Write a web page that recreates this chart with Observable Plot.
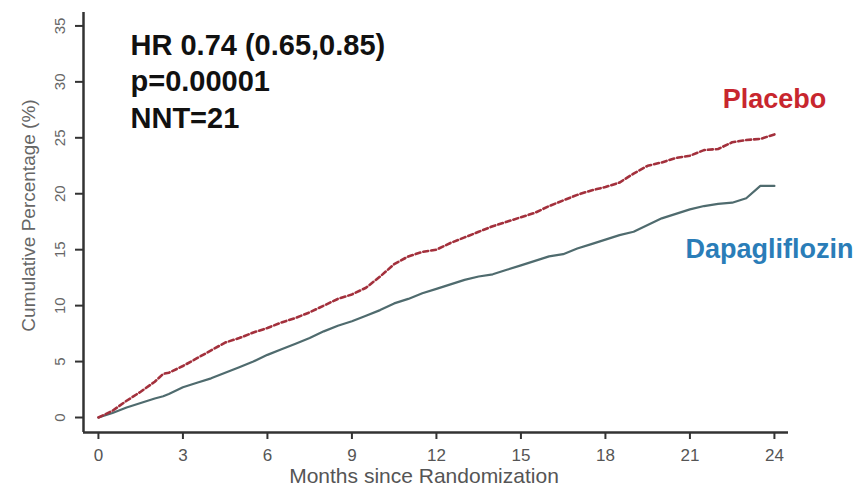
<!DOCTYPE html>
<html>
<head>
<meta charset="utf-8">
<script src="https://cdn.jsdelivr.net/npm/d3@7"></script>
<script src="https://cdn.jsdelivr.net/npm/@observablehq/plot@0.6"></script>
<style>
  html, body { margin: 0; padding: 0; background: #fff; }
  #chart svg { display: block; }
</style>
</head>
<body>
<div id="chart"></div>
<script>
// Data
const months = [0,0.5,1,1.5,2,2.3,2.5,3,3.5,4,4.5,5,5.5,6,6.5,7,7.5,8,8.5,9,9.5,10,10.5,11,11.5,12,12.5,13,13.5,14,14.5,15,15.5,16,16.5,17,17.5,18,18.5,19,19.5,20,20.5,21,21.5,22,22.5,23,23.5,24];
const placebo = [0,0.6,1.5,2.3,3.2,3.9,4.0,4.6,5.3,6.0,6.7,7.1,7.6,8.0,8.5,8.9,9.4,10.0,10.6,11.0,11.6,12.6,13.7,14.4,14.8,15.0,15.6,16.1,16.6,17.1,17.5,17.9,18.3,18.9,19.4,19.9,20.3,20.6,21.0,21.8,22.5,22.8,23.2,23.4,23.9,24.0,24.6,24.8,24.9,25.3];
const dapagliflozin = [0,0.4,0.9,1.3,1.7,1.9,2.1,2.7,3.1,3.5,4.0,4.5,5.0,5.6,6.1,6.6,7.1,7.7,8.2,8.6,9.1,9.6,10.2,10.6,11.1,11.5,11.9,12.3,12.6,12.8,13.2,13.6,14.0,14.4,14.6,15.1,15.5,15.9,16.3,16.6,17.2,17.8,18.2,18.6,18.9,19.1,19.2,19.6,20.7,20.7];
const xTicks = [0,3,6,9,12,15,18,21,24];
const yTicks = [0,5,10,15,20,25,30,35];
const statsText = ["HR 0.74 (0.65,0.85)", "p=0.00001", "NNT=21"];
const seriesNames = ["Placebo", "Dapagliflozin"];

const xDomain = [-0.53, 24.5];
const yDomain = [-1.34, 36.2];

const placeboData = months.map((m, i) => ({month: m, value: placebo[i]}));
const dapaData = months.map((m, i) => ({month: m, value: dapagliflozin[i]}));

const font = "Liberation Sans, Arial, Helvetica, sans-serif";

const chart = Plot.plot({
  width: 859,
  height: 485,
  marginLeft: 83,
  marginRight: 71,
  marginTop: 12,
  marginBottom: 53,
  style: {fontFamily: font, background: "#fff", overflow: "visible"},
  x: {domain: xDomain},
  y: {domain: yDomain},
  marks: [
    // axes lines
    Plot.ruleX([xDomain[0]], {stroke: "#333", strokeWidth: 2.5}),
    Plot.ruleY([yDomain[0]], {stroke: "#333", strokeWidth: 2.5}),
    Plot.axisX({ticks: xTicks, tickSize: 7, tickPadding: 9, fontSize: 17, color: "#555", stroke: "#333", strokeWidth: 2, label: null}),
    Plot.axisY({ticks: yTicks, tickRotate: -90, tickSize: 8, tickPadding: 11, fontSize: 15, color: "#666", stroke: "#333", strokeWidth: 2, label: null}),
    // axis titles
    Plot.text(["Months since Randomization"], {frameAnchor: "bottom", textAnchor: "middle", lineAnchor: "bottom", dx: -12, dy: 50, fontSize: 21, fill: "#555"}),
    Plot.text(["Cumulative Percentage (%)"], {frameAnchor: "left", textAnchor: "middle", lineAnchor: "bottom", rotate: -90, dx: -49, dy: -7, fontSize: 19, fill: "#666"}),
    // series
    Plot.line(dapaData, {x: "month", y: "value", stroke: "#4f6b6e", strokeWidth: 2.2}),
    Plot.line(placeboData, {x: "month", y: "value", stroke: "#a3303c", strokeWidth: 2.6, strokeDasharray: "5,3"}),
    // annotations
    Plot.text([statsText.join("\n")], {frameAnchor: "top-left", textAnchor: "start", lineAnchor: "top", lineHeight: 1.27, dx: 47, dy: 16, fontSize: 29, fontWeight: "bold", fill: "#111"}),
    Plot.text([seriesNames[0]], {frameAnchor: "top-right", textAnchor: "middle", lineAnchor: "bottom", dx: -14, dy: 95, fontSize: 27, fontWeight: "bold", fill: "#c8262e"}),
    Plot.text([seriesNames[1]], {frameAnchor: "top-right", textAnchor: "middle", lineAnchor: "bottom", dx: -19, dy: 245, fontSize: 27, fontWeight: "bold", fill: "#2a7db8"})
  ]
});

document.getElementById("chart").appendChild(chart);
</script>
</body>
</html>
